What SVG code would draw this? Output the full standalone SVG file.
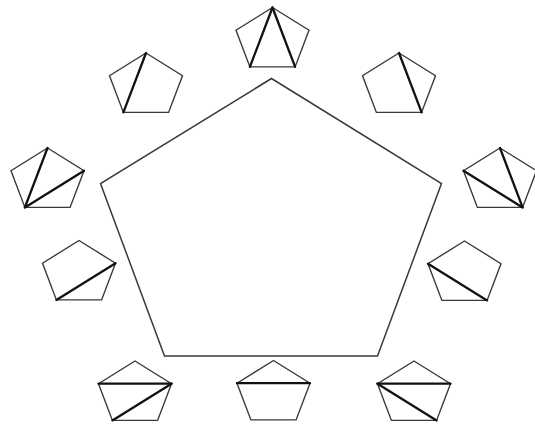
<svg xmlns="http://www.w3.org/2000/svg" xmlns:xlink="http://www.w3.org/1999/xlink" width="535" height="426" viewBox="0 0 535 426">
<style>
.pent{fill:none;stroke:#3a3a3a;stroke-width:1.4;stroke-linejoin:miter}
.big{fill:none;stroke:#3a3a3a;stroke-width:1.5}
.diag{stroke:#111;stroke-width:2.3;stroke-linecap:round}
</style>
<defs>
<polygon id="p" class="pent" points="0,0 36.5,22.7 22.6,59.4 -22.6,59.4 -36.5,22.7"/>
</defs>
<rect width="535" height="426" fill="#fff"/>
<g id="big-pentagon"><polygon class="big" points="271.5,78.5 441.5,183.5 377.5,356 164.5,356 100.5,183.5"/></g>
<g id="p-top" transform="translate(272.5,7.5)"><use href="#p"/><line class="diag" x1="0" y1="0" x2="-22.6" y2="59.4"/><line class="diag" x1="0" y1="0" x2="22.6" y2="59.4"/></g>
<g id="p-upper-left" transform="translate(146,53)"><use href="#p"/><line class="diag" x1="0" y1="0" x2="-22.6" y2="59.4"/></g>
<g id="p-upper-right" transform="translate(399,53)"><use href="#p"/><line class="diag" x1="0" y1="0" x2="22.6" y2="59.4"/></g>
<g id="p-left" transform="translate(47.5,148)"><use href="#p"/><line class="diag" x1="-22.6" y1="59.4" x2="0" y2="0"/><line class="diag" x1="-22.6" y1="59.4" x2="36.5" y2="22.7"/></g>
<g id="p-right" transform="translate(500,148)"><use href="#p"/><line class="diag" x1="22.6" y1="59.4" x2="0" y2="0"/><line class="diag" x1="22.6" y1="59.4" x2="-36.5" y2="22.7"/></g>
<g id="p-mid-left" transform="translate(79,240.5)"><use href="#p"/><line class="diag" x1="36.5" y1="22.7" x2="-22.6" y2="59.4"/></g>
<g id="p-mid-right" transform="translate(464.5,241)"><use href="#p"/><line class="diag" x1="-36.5" y1="22.7" x2="22.6" y2="59.4"/></g>
<g id="p-bottom-left" transform="translate(135,361)"><use href="#p"/><line class="diag" x1="-36.5" y1="22.7" x2="36.5" y2="22.7"/><line class="diag" x1="36.5" y1="22.7" x2="-22.6" y2="59.4"/></g>
<g id="p-bottom" transform="translate(273.5,360.5)"><use href="#p"/><line class="diag" x1="-36.5" y1="22.7" x2="36.5" y2="22.7"/></g>
<g id="p-bottom-right" transform="translate(414,361)"><use href="#p"/><line class="diag" x1="-36.5" y1="22.7" x2="36.5" y2="22.7"/><line class="diag" x1="-36.5" y1="22.7" x2="22.6" y2="59.4"/></g>
</svg>
